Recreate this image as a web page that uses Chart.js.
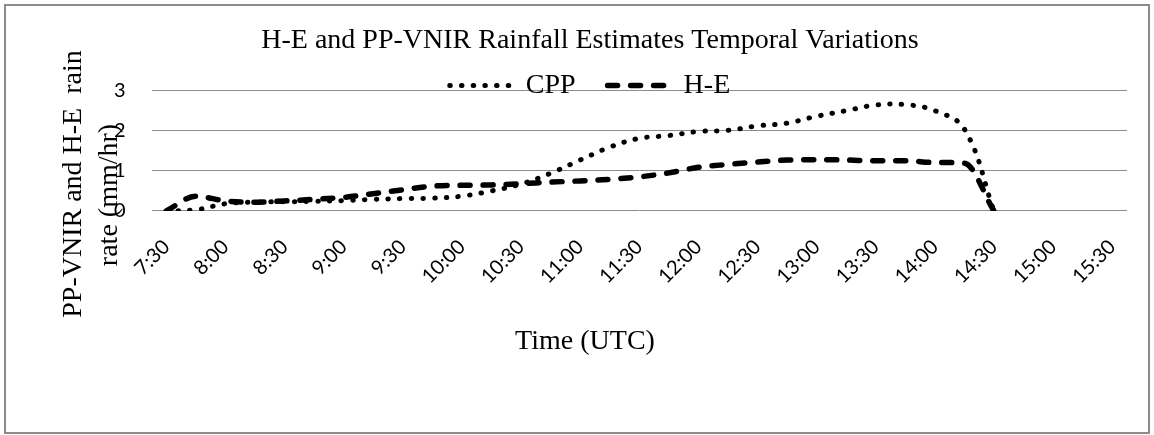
<!DOCTYPE html>
<html>
<head>
<meta charset="utf-8">
<title>H-E and PP-VNIR Rainfall Estimates Temporal Variations</title>
<script src="https://cdn.jsdelivr.net/npm/chart.js@4.4.1/dist/chart.umd.min.js"></script>
<style>
  html, body { margin: 0; padding: 0; background: #fff; }
  #wrap { position: relative; width: 1154px; height: 435px; }
  #chart { position: absolute; left: 0; top: 0; }
  #frame { position: absolute; left: 4px; top: 4px; width: 1146px; height: 430px;
           border: 2px solid #8c8c8c; box-sizing: border-box; pointer-events: none; }
</style>
</head>
<body>
<div id="wrap">
  <canvas id="chart" width="1154" height="435"></canvas>
  <div id="frame"></div>
</div>
<script>
// 15-minute time slots (UTC) on the category axis
const timeSlots = [
  '7:30', '7:45', '8:00', '8:15', '8:30', '8:45', '9:00', '9:15', '9:30', '9:45',
  '10:00', '10:15', '10:30', '10:45', '11:00', '11:15', '11:30', '11:45', '12:00', '12:15',
  '12:30', '12:45', '13:00', '13:15', '13:30', '13:45', '14:00', '14:15', '14:30', '14:45',
  '15:00', '15:15', '15:30'
];

// Half-hour labels shown under the axis
const tickLabels = [
  '7:30', '8:00', '8:30', '9:00', '9:30', '10:00', '10:30', '11:00', '11:30',
  '12:00', '12:30', '13:00', '13:30', '14:00', '14:30', '15:00', '15:30'
];

// Rain rate (mm/hr), CPP (PP-VNIR) estimate
const cppRate = [
  0, 0.03, 0.18, 0.22, 0.23, 0.24, 0.26, 0.29, 0.31, 0.32,
  0.37, 0.50, 0.67, 0.94, 1.27, 1.59, 1.81, 1.88, 1.98, 2.01,
  2.12, 2.19, 2.36, 2.50, 2.64, 2.65, 2.50, 2.04, 0,
  null, null, null, null
];

// Rain rate (mm/hr), Hydro-Estimator
const heRate = [
  0, 0.37, 0.25, 0.22, 0.25, 0.29, 0.34, 0.43, 0.53, 0.62,
  0.64, 0.65, 0.68, 0.72, 0.75, 0.79, 0.85, 0.95, 1.09, 1.16,
  1.22, 1.27, 1.28, 1.27, 1.25, 1.25, 1.21, 1.19, 0,
  null, null, null, null
];

const seriesNames = ['CPP', 'H-E'];
const chartTitle = 'H-E and PP-VNIR Rainfall Estimates Temporal Variations';
const xAxisTitle = 'Time (UTC)';
const yAxisTitleLines = ['PP-VNIR and H-E  rain', 'rate (mm/hr)'];

const SERIF = '"Liberation Serif", "Times New Roman", serif';
const SANS = 'Lato, "Open Sans", sans-serif';
const INK = '#000';
const GRID = '#8c8c8c';

// Axis titles placed freely around the plot area
const axisTitles = {
  id: 'axisTitles',
  afterDraw(chart) {
    const ctx = chart.ctx;
    ctx.save();
    ctx.fillStyle = INK;
    ctx.font = '28px ' + SERIF;
    ctx.textAlign = 'center';
    ctx.textBaseline = 'middle';
    ctx.fillText(xAxisTitle, 585, 342);
    const yTitlePos = [[74, 184], [110, 195]];
    yAxisTitleLines.forEach((line, i) => {
      ctx.save();
      ctx.translate(yTitlePos[i][0], yTitlePos[i][1]);
      ctx.rotate(-Math.PI / 2);
      ctx.fillText(line, 0, 0);
      ctx.restore();
    });
    ctx.restore();
  }
};

// Let the legend row sit over the top gridline: it reserves less height
// than it draws in, then gets its full box back for drawing.
const compactLegend = {
  id: 'compactLegend',
  beforeLayout(chart) {
    const legend = chart.legend;
    if (legend && !legend.__compact) {
      const fit = legend.fit;
      legend.fit = function () {
        fit.call(this);
        this.height = 51;
      };
      legend.__compact = true;
    }
  },
  afterLayout(chart) {
    const legend = chart.legend;
    if (legend) {
      legend.height = 80;
      legend.bottom = legend.top + 80;
    }
  }
};

function draw() {
  new Chart(document.getElementById('chart'), {
    type: 'line',
    data: {
      labels: timeSlots,
      datasets: [
        {
          label: seriesNames[0],
          data: cppRate,
          borderColor: INK,
          backgroundColor: INK,
          borderWidth: 5,
          borderDash: [0.5, 11.2],
          borderCapStyle: 'round',
          borderJoinStyle: 'round',
          pointRadius: 0,
          pointHoverRadius: 0,
          tension: 0.4,
          fill: false
        },
        {
          label: seriesNames[1],
          data: heRate,
          borderColor: INK,
          backgroundColor: INK,
          borderWidth: 5.5,
          borderDash: [10, 13],
          borderCapStyle: 'round',
          borderJoinStyle: 'round',
          pointRadius: 0,
          pointHoverRadius: 0,
          cubicInterpolationMode: 'monotone',
          fill: false
        }
      ]
    },
    options: {
      responsive: false,
      animation: false,
      devicePixelRatio: 1,
      layout: { padding: { left: 53, right: 27, top: 0, bottom: 0 } },
      plugins: {
        tooltip: { enabled: false },
        title: {
          display: true,
          text: chartTitle,
          color: INK,
          font: { family: SERIF, size: 28, weight: 'normal', lineHeight: 1.2 },
          padding: { top: 24, bottom: -18 }
        },
        legend: {
          display: true,
          position: 'top',
          labels: {
            color: INK,
            font: { family: SERIF, size: 28 },
            usePointStyle: true,
            pointStyle: 'line',
            pointStyleWidth: 62,
            padding: 32,
            generateLabels(chart) {
              return chart.data.datasets.map((ds, i) => ({
                text: ds.label,
                fillStyle: ds.borderColor,
                strokeStyle: ds.borderColor,
                fontColor: INK,
                lineWidth: ds.borderWidth,
                lineDash: ds.borderDash,
                lineCap: ds.borderCapStyle,
                lineJoin: ds.borderJoinStyle,
                pointStyle: 'line',
                hidden: !chart.isDatasetVisible(i),
                datasetIndex: i
              }));
            }
          }
        }
      },
      scales: {
        x: {
          type: 'category',
          offset: true,
          grid: { display: false, drawTicks: false },
          border: { display: false },
          ticks: {
            autoSkip: false,
            maxRotation: 45,
            minRotation: 45,
            padding: 24,
            color: INK,
            font: { family: SANS, size: 20 },
            callback(value) {
              const label = this.getLabelForValue(value);
              return tickLabels.includes(label) ? label : '';
            }
          },
          afterFit(scale) { scale.height = 224; }
        },
        y: {
          min: 0,
          max: 3,
          grid: { color: GRID, lineWidth: 1, drawTicks: false },
          border: { display: false },
          ticks: {
            stepSize: 1,
            padding: 26,
            color: INK,
            font: { family: SANS, size: 20 }
          },
          afterFit(scale) { scale.width = 98.5; }
        }
      }
    },
    plugins: [axisTitles, compactLegend]
  });
}

Promise.all([
  document.fonts.load('20px Lato'),
  document.fonts.load('28px "Liberation Serif"')
]).then(draw, draw);
</script>
</body>
</html>
